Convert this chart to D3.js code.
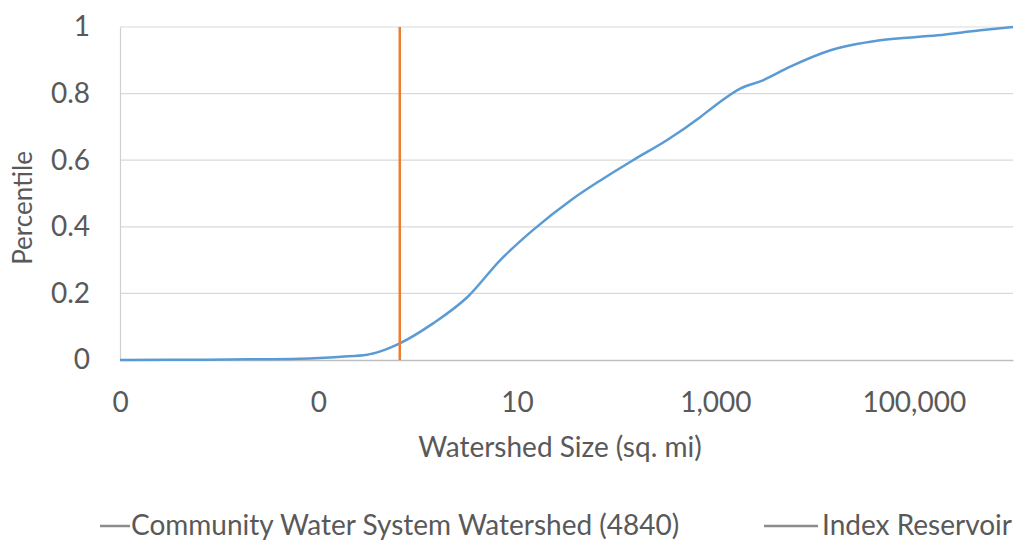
<!DOCTYPE html>
<html><head><meta charset="utf-8">
<script src="https://d3js.org/d3.v7.min.js"></script>
<style>
body{margin:0;background:#fff;}
text{font-family:Lato,"Open Sans",sans-serif;fill:#595959;}
</style></head>
<body><svg id="c" width="1019" height="542"></svg>
<script>
// Watershed size (sq. mi) and cumulative percentile
const sizes = [0.001, 0.0065, 0.02, 0.065, 0.17, 0.31, 0.42, 0.66, 1.43, 3.2, 6.8, 14.5, 35, 70, 148, 324, 708, 955, 1780, 3020, 5620, 14500, 45700, 174000, 468000, 1000000];
const percentiles = [0, 0.001, 0.002, 0.004, 0.01, 0.016, 0.026, 0.05, 0.11, 0.19, 0.30, 0.39, 0.48, 0.54, 0.60, 0.66, 0.73, 0.76, 0.815, 0.84, 0.88, 0.93, 0.96, 0.975, 0.99, 1.0];
const indexReservoir = 0.66;
const xTicks = [0.001, 0.1, 10, 1000, 100000];
const yTicks = [0, 0.2, 0.4, 0.6, 0.8, 1];
const seriesNames = ["Community Water System Watershed (4840)", "Index Reservoir"];
const xTitle = "Watershed Size (sq. mi)";
const yTitle = "Percentile";

const svg = d3.select("#c");
const L = 120, R = 1013, T = 27, B = 360;
const x = d3.scaleLog().domain([0.001, 1000000]).range([L, R]);
const y = d3.scaleLinear().domain([0, 1]).range([B, T]);
const fmt = v => v < 1 ? "0" : d3.format(",")(v);

// gridlines
svg.append("g").selectAll("line").data(yTicks.filter(d => d > 0)).join("line")
  .attr("x1", L).attr("x2", R).attr("y1", d => y(d)).attr("y2", d => y(d))
  .attr("stroke", "#d9d9d9").attr("stroke-width", 1.2);

// axes
const xa = svg.append("g").attr("transform", `translate(0,${B})`)
  .call(d3.axisBottom(x).tickValues(xTicks).tickFormat(fmt).tickSize(0).tickPadding(52));
xa.select(".domain").attr("stroke", "#bfbfbf").attr("stroke-width", 1.5);
xa.selectAll("text").attr("dy", 0).style("font-size", "28px").attr("fill", "#595959");

const ya = svg.append("g").attr("transform", `translate(${L},0)`)
  .call(d3.axisLeft(y).tickValues(yTicks).tickFormat(d3.format("")).tickSize(0).tickPadding(30));
ya.select(".domain").attr("stroke", "#d0d0d0").attr("stroke-width", 1.2);
ya.selectAll("text").style("font-size", "28px").attr("fill", "#595959");

// series line
const line = d3.line().x((d, i) => x(sizes[i])).y(d => y(d)).curve(d3.curveMonotoneX);
svg.append("path").datum(percentiles).attr("d", line)
  .attr("fill", "none").attr("stroke", "#5b9bd5").attr("stroke-width", 2.5);

// index reservoir vertical line
svg.append("line").attr("x1", x(indexReservoir)).attr("x2", x(indexReservoir))
  .attr("y1", y(1)).attr("y2", y(0)).attr("stroke", "#ed7d31").attr("stroke-width", 2.5);

// axis titles
svg.append("text").attr("x", 560).attr("y", 457).attr("text-anchor", "middle")
  .style("font-size", "28px").text(xTitle);
svg.append("text").attr("transform", "translate(32,208) rotate(-90)").attr("text-anchor", "middle")
  .style("font-size", "26px").text(yTitle);

// legend
const leg = [{name: seriesNames[0], x1: 100, x2: 130, tx: 131}, {name: seriesNames[1], x1: 764, x2: 818, tx: 822}];
const lg = svg.append("g");
lg.selectAll("line").data(leg).join("line")
  .attr("x1", d => d.x1).attr("x2", d => d.x2).attr("y1", 526).attr("y2", 526)
  .attr("stroke", "#8c8c8c").attr("stroke-width", 2.5);
lg.selectAll("text").data(leg).join("text")
  .attr("x", d => d.tx).attr("y", 535).style("font-size", "28px").text(d => d.name);
</script></body></html>
